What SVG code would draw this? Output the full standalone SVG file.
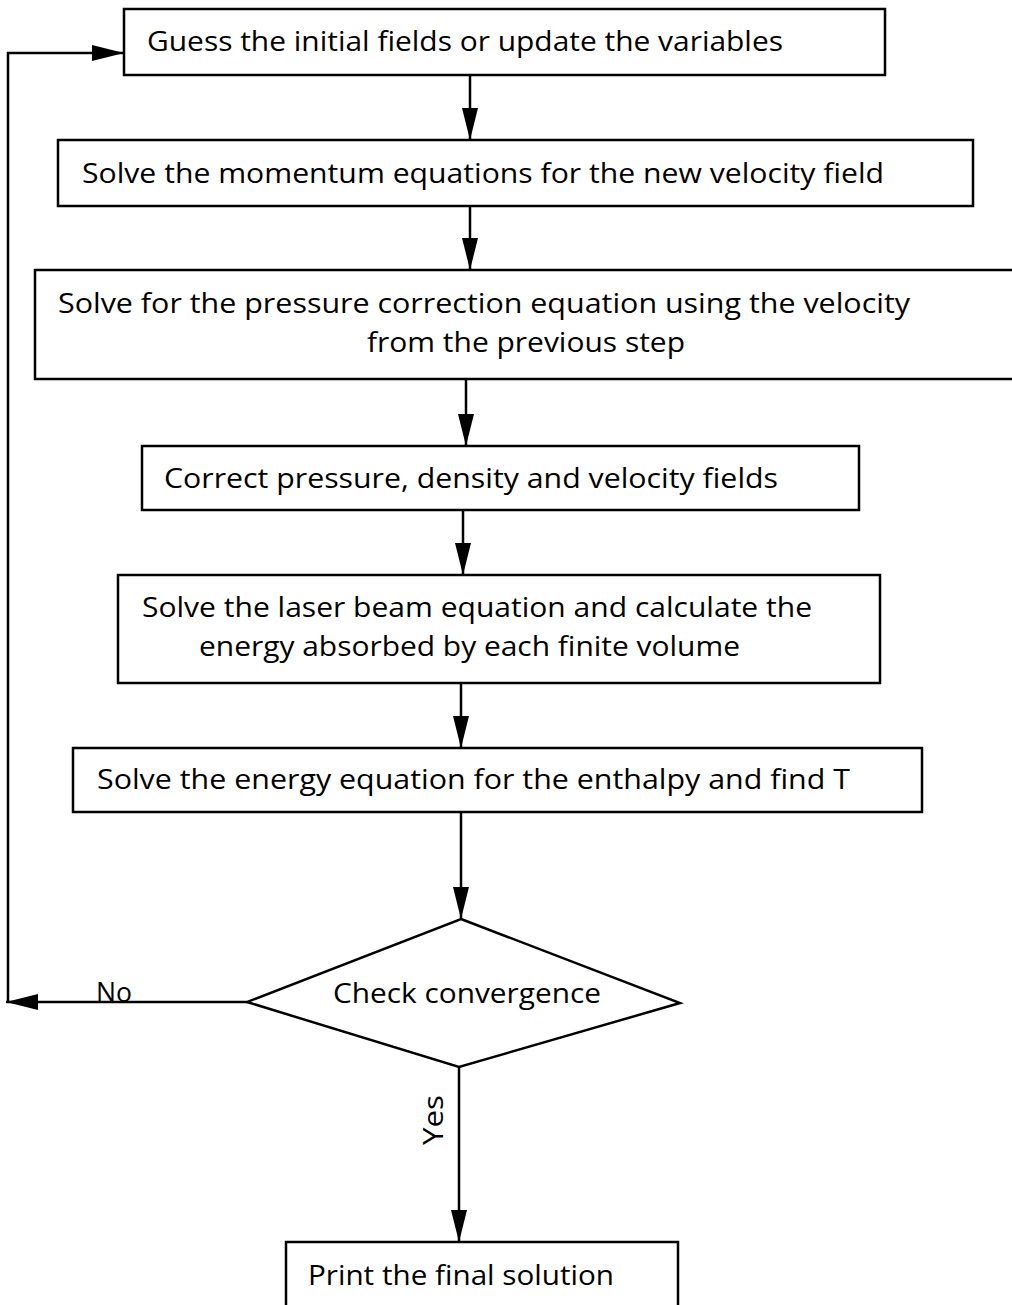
<svg xmlns="http://www.w3.org/2000/svg" width="1012" height="1305" viewBox="0 0 1012 1305">
<style>
.box{fill:#fff;stroke:#000;stroke-width:2.5}
.t{font-family:"Open Sans","Liberation Sans",Arial,sans-serif;font-size:28px;fill:#000}
.c{fill:none;stroke:#000;stroke-width:2.5}
</style>
<defs>
<marker id="ah" viewBox="0 0 32 16" refX="32" refY="8" markerWidth="32" markerHeight="16" markerUnits="userSpaceOnUse" orient="auto">
<path d="M0,0 L32,8 L0,16 Z" fill="#000"/>
</marker>
</defs>
<rect width="1012" height="1305" fill="#fff"/>
<g id="connectors">
<line class="c" x1="470" y1="75" x2="470" y2="140" marker-end="url(#ah)"/>
<line class="c" x1="470" y1="206" x2="470" y2="270" marker-end="url(#ah)"/>
<line class="c" x1="466" y1="379" x2="466" y2="446" marker-end="url(#ah)"/>
<line class="c" x1="463" y1="510" x2="463" y2="575" marker-end="url(#ah)"/>
<line class="c" x1="461" y1="683" x2="461" y2="748" marker-end="url(#ah)"/>
<line class="c" x1="461" y1="812" x2="461" y2="919" marker-end="url(#ah)"/>
<line class="c" x1="247" y1="1002" x2="6" y2="1002" marker-end="url(#ah)"/>
<polyline class="c" points="8,1002 8,53 124,53" marker-end="url(#ah)"/>
<line class="c" x1="459" y1="1067" x2="459" y2="1242" marker-end="url(#ah)"/>
<text class="t" x="96" y="1002" textLength="36" lengthAdjust="spacingAndGlyphs">No</text>
<text class="t" transform="translate(443,1145) rotate(-90)" textLength="50" lengthAdjust="spacingAndGlyphs">Yes</text>
</g>
<g id="n1">
<rect class="box" x="124" y="9" width="761" height="66"/>
<text class="t" x="147" y="51" textLength="636" lengthAdjust="spacingAndGlyphs">Guess the initial fields or update the variables</text>
</g>
<g id="n2">
<rect class="box" x="58" y="140" width="915" height="66"/>
<text class="t" x="82" y="183" textLength="802" lengthAdjust="spacingAndGlyphs">Solve the momentum equations for the new velocity field</text>
</g>
<g id="n3">
<rect class="box" x="35" y="270" width="990" height="109"/>
<text class="t" x="58" y="313" textLength="852" lengthAdjust="spacingAndGlyphs">Solve for the pressure correction equation using the velocity</text>
<text class="t" x="367" y="352" textLength="318" lengthAdjust="spacingAndGlyphs">from the previous step</text>
</g>
<g id="n4">
<rect class="box" x="142" y="446" width="717" height="64"/>
<text class="t" x="164" y="488" textLength="614" lengthAdjust="spacingAndGlyphs">Correct pressure, density and velocity fields</text>
</g>
<g id="n5">
<rect class="box" x="118" y="575" width="762" height="108"/>
<text class="t" x="142" y="617" textLength="670" lengthAdjust="spacingAndGlyphs">Solve the laser beam equation and calculate the</text>
<text class="t" x="199" y="656" textLength="541" lengthAdjust="spacingAndGlyphs">energy absorbed by each finite volume</text>
</g>
<g id="n6">
<rect class="box" x="73" y="748" width="849" height="64"/>
<text class="t" x="97" y="789" textLength="753" lengthAdjust="spacingAndGlyphs">Solve the energy equation for the enthalpy and find T</text>
</g>
<g id="n7">
<polygon class="box" points="461,919 680,1003 459,1067 247,1002"/>
<text class="t" x="333" y="1003" textLength="268" lengthAdjust="spacingAndGlyphs">Check convergence</text>
</g>
<g id="n8">
<rect class="box" x="286" y="1242" width="392" height="70"/>
<text class="t" x="308" y="1285" textLength="306" lengthAdjust="spacingAndGlyphs">Print the final solution</text>
</g>
</svg>
